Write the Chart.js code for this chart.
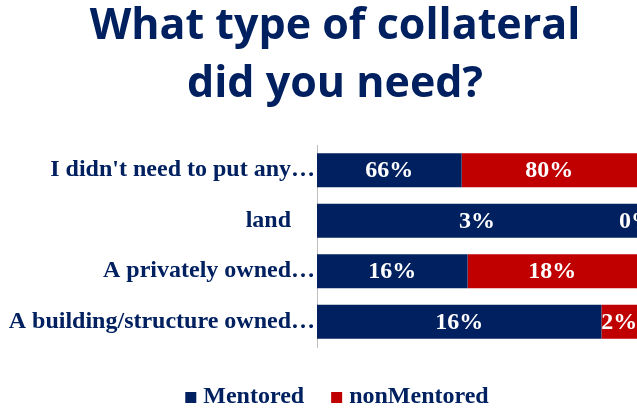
<!DOCTYPE html>
<html>
<head>
<meta charset="utf-8">
<script src="https://cdn.jsdelivr.net/npm/chart.js@4"></script>
<style>
  html, body { margin: 0; padding: 0; background: #fff; }
  /* the figure is wider than the window; its right edge runs past the frame */
  #wrap { width: 637px; height: 408px; overflow: hidden; }
  #c { display: block; }
</style>
</head>
<body>
<div id="wrap"><canvas id="c" width="670" height="408"></canvas></div>
<script>
const categories = ["I didn't need to put any\u2026", "land\u00a0\u00a0\u00a0\u00a0", "A privately owned\u2026", "A building/structure owned\u2026"];
const mentored = [66, 3, 16, 16];
const nonMentored = [80, 0, 18, 2];
const seriesNames = ["Mentored", "nonMentored"];
const titleLines = ['What type of collateral', 'did you need?'];

const NAVY = '#002060';
const RED = '#C00000';
const SERIF = "'Liberation Serif', 'Times New Roman', serif";
const seriesColors = [NAVY, RED];

// Each row is stretched to 100%: the two segments share the row by their values
const share = (a, b) => a.map((v, i) => (v + b[i]) ? v / (v + b[i]) * 100 : 0);
const mentoredShare = share(mentored, nonMentored);
const nonMentoredShare = share(nonMentored, mentored);
const rawValues = [mentored, nonMentored];

// Writes each segment's own percentage in the middle of its bar
const segmentLabels = {
  id: 'segmentLabels',
  afterDatasetsDraw(chart) {
    const ctx = chart.ctx;
    ctx.save();
    ctx.font = 'bold 24px ' + SERIF;
    ctx.fillStyle = '#ffffff';
    ctx.textAlign = 'center';
    ctx.textBaseline = 'middle';
    chart.data.datasets.forEach((ds, di) => {
      chart.getDatasetMeta(di).data.forEach((bar, i) => {
        const x = (bar.x + bar.base) / 2;
        ctx.fillText(rawValues[di][i] + '%', x, bar.y + 1);
      });
    });
    ctx.restore();
  }
};

// Small square swatches with bold serif names, centred under the chart
const swatchLegend = {
  id: 'swatchLegend',
  afterDraw(chart) {
    const ctx = chart.ctx;
    const box = 11, gap = 7, between = 27, baseline = chart.height - 5;
    ctx.save();
    ctx.font = 'bold 24px ' + SERIF;
    ctx.textBaseline = 'alphabetic';
    ctx.textAlign = 'left';
    const items = chart.data.datasets.map((ds, i) => ({
      text: ds.label, color: seriesColors[i], w: ctx.measureText(ds.label).width
    }));
    const total = items.reduce((s, it) => s + box + gap + it.w, 0) + between * (items.length - 1);
    let x = chart.width / 2 - total / 2 + 2;
    items.forEach(it => {
      ctx.fillStyle = it.color;
      ctx.fillRect(x, baseline - box, box, box);
      x += box + gap;
      ctx.fillStyle = NAVY;
      ctx.fillText(it.text, x, baseline);
      x += it.w + between;
    });
    ctx.restore();
  }
};

new Chart(document.getElementById('c'), {
  type: 'bar',
  data: {
    labels: categories,
    datasets: [
      { label: seriesNames[0], data: mentoredShare, backgroundColor: seriesColors[0],
        categoryPercentage: 1, barPercentage: 0.67 },
      { label: seriesNames[1], data: nonMentoredShare, backgroundColor: seriesColors[1],
        categoryPercentage: 1, barPercentage: 0.67 }
    ]
  },
  options: {
    indexAxis: 'y',
    responsive: false,
    animation: false,
    layout: { padding: { left: 0, right: 0, top: 0, bottom: 61 } },
    scales: {
      x: { stacked: true, min: 0, max: 100, display: false },
      y: {
        stacked: true,
        grid: { display: false, drawTicks: false },
        border: { display: true, color: '#BFBFBF', width: 1 },
        ticks: { color: NAVY, font: { family: SERIF, size: 24, weight: 'bold' }, padding: 2 },
        afterFit: s => { s.width = 317; }
      },
      // empty margin to the right of the bars
      yRight: {
        position: 'right',
        grid: { display: false, drawTicks: false },
        border: { display: false },
        ticks: { display: false },
        afterFit: s => { s.width = 33; }
      }
    },
    plugins: {
      title: {
        display: true,
        text: titleLines,
        color: NAVY,
        font: { family: "'Open Sans', Lato, sans-serif", size: 43, weight: 'bold', lineHeight: 1.349 },
        padding: { top: -2, bottom: 31 }
      },
      legend: { display: false },
      tooltip: { enabled: false }
    }
  },
  plugins: [segmentLabels, swatchLegend]
});
</script>
</body>
</html>
